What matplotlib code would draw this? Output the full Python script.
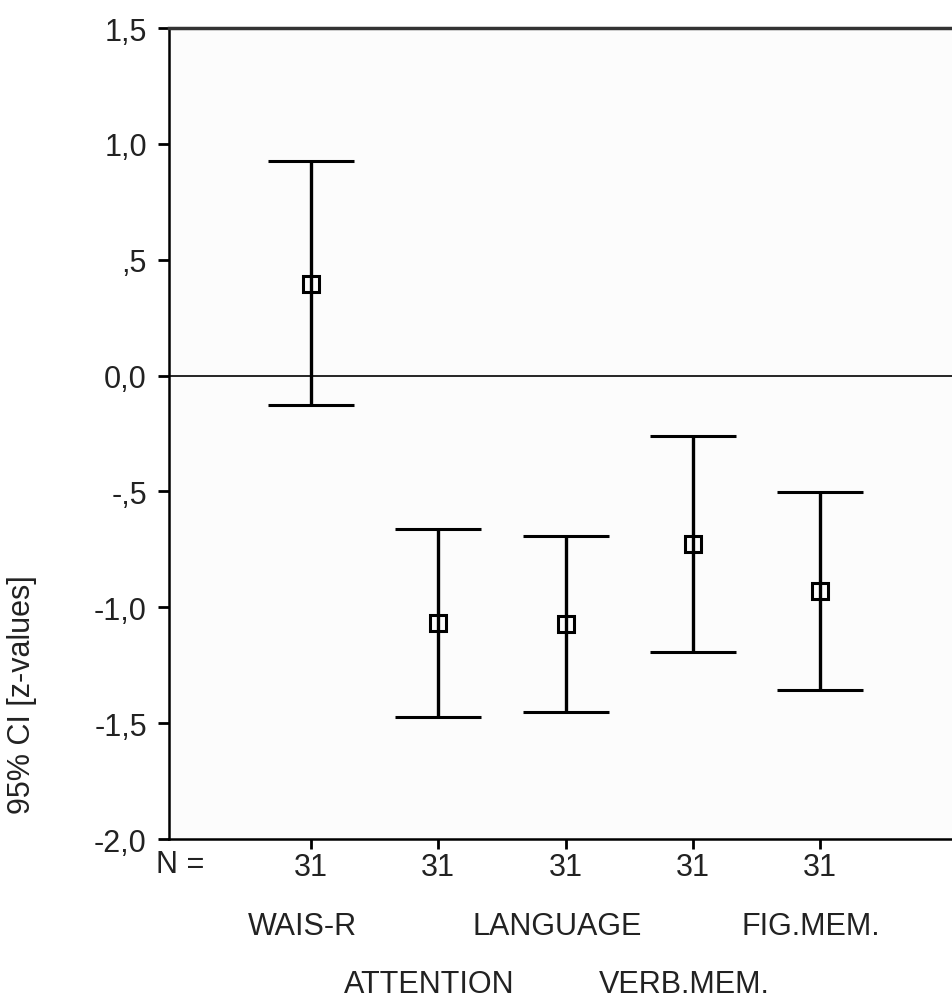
import numpy as np
import matplotlib.pyplot as plt
from matplotlib import transforms

plt.rcParams['font.family'] = ['Liberation Sans', 'DejaVu Sans']

# data (z-values, 95% CI)
groups = ['WAIS-R', 'ATTENTION', 'LANGUAGE', 'VERB.MEM.', 'FIG.MEM.']
n_cases = [31, 31, 31, 31, 31]
means = np.array([0.395, -1.069, -1.070, -0.727, -0.930])
ci_low = np.array([-0.126, -1.472, -1.453, -1.192, -1.356])
ci_high = np.array([0.925, -0.662, -0.693, -0.259, -0.501])
yticks = [1.5, 1.0, 0.5, 0.0, -0.5, -1.0, -1.5, -2.0]
ytick_labels = ['1,5', '1,0', ',5', '0,0', '-,5', '-1,0', '-1,5', '-2,0']

W, H = 952, 1003
fig = plt.figure(figsize=(W / 100, H / 100), dpi=100)
ax = fig.add_axes([169 / W, 1 - 840 / H, 1 - 169 / W, (840 - 29) / H])
ax.set_facecolor('#fcfcfc')

x = np.arange(1, len(groups) + 1)
txt = '#222222'
fs = 22

ax.axhline(0, color='black', lw=1.2, zorder=1)
ax.errorbar(x, means, yerr=[means - ci_low, ci_high - means], fmt='s',
            mfc='none', mec='black', ms=11, mew=2.2, ecolor='black',
            elinewidth=2.4, capsize=31, capthick=2.6, zorder=3)

ax.set_xlim(1 - 142 / 127.3, 1 + 641 / 127.3)
ax.set_ylim(-2.0, 1.5)
ax.set_yticks(yticks)
ax.set_yticklabels(ytick_labels)
ax.set_xticks(x)
ax.set_xticklabels([str(n) for n in n_cases])
ax.tick_params(axis='both', direction='out', length=8, width=2,
               labelsize=fs, labelcolor=txt)
ax.tick_params(axis='y', pad=8)
ax.tick_params(axis='x', length=7, pad=2)

ax.spines['right'].set_visible(False)
ax.spines['top'].set_linewidth(2.5)
ax.spines['top'].set_color('#333333')
ax.spines['left'].set_linewidth(1.8)
ax.spines['bottom'].set_linewidth(1.8)

fig.text(180 / W, 1 - 865 / H, 'N =', ha='center', va='center',
         fontsize=fs, color=txt)

# staggered group names below the N row
trans = transforms.blended_transform_factory(ax.transData, fig.transFigure)
for i, name in enumerate(groups):
    ypix = 927 if i % 2 == 0 else 985
    ax.text(x[i] - 0.07, 1 - ypix / H, name, transform=trans,
            ha='center', va='center', fontsize=fs, color=txt)

fig.text(22 / W, 1 - 695 / H, '95% CI [z-values]', rotation=90,
         ha='center', va='center', fontsize=fs, color=txt)

fig.savefig('out.png', dpi=100)
